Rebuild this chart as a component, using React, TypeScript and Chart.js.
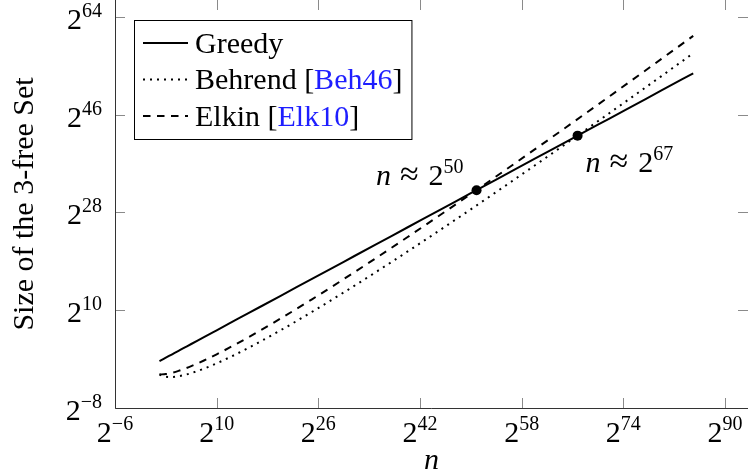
import React, { useEffect, useRef } from "react";
import { Chart, registerables } from "chart.js";

Chart.register(...registerables);

// log2(n) sample positions
const LOG_N = [1, 2, 3, 4, 5, 6, 8, 10, 12, 15, 20, 25, 30, 35, 40, 45, 50, 55, 60, 65, 70, 75, 80, 85];
// log2(size) of each lower bound
const GREEDY = [0.631, 1.262, 1.893, 2.524, 3.155, 3.786, 5.047, 6.309, 7.571, 9.464, 12.619, 15.773, 18.928, 22.083, 25.237, 28.392, 31.546, 34.701, 37.856, 41.01, 44.165, 47.32, 50.474, 53.629];
const BEHREND = [-1.828, -2.25, -2.295, -2.157, -1.905, -1.574, -0.75, 0.225, 1.306, 3.068, 6.27, 9.697, 13.281, 16.985, 20.78, 24.653, 28.589, 32.579, 36.614, 40.69, 44.804, 48.948, 53.121, 57.321];
const ELKIN = [-1.828, -1.75, -1.503, -1.157, -0.744, -0.282, 0.75, 1.887, 3.098, 5.022, 8.432, 12.019, 15.735, 19.549, 23.442, 27.399, 31.411, 35.469, 39.568, 43.702, 47.868, 52.062, 56.283, 60.525];
// crossing points
const CROSS_N = [50.9, 66.8];
const CROSS_SIZE = [32.1, 42.15];
const CROSS_LABELS = ["50", "67"];
// ticks (exponents of 2)
const X_TICKS = [-6, 10, 26, 42, 58, 74, 90];
const Y_TICKS = [-8, 10, 28, 46, 64];
// legend
const SERIES_NAMES = ["Greedy", "Behrend", "Elkin"];
const SERIES_CITES = ["", "Beh46", "Elk10"];
const X_TITLE = "n";
const Y_TITLE = "Size of the 3-free Set";

const FONT = '"Liberation Serif", "Times New Roman", serif';
const BASE = 30;
const SUP = 20;
const RISE = 12;
const LINK = "rgb(30,30,255)";
const DASHES: number[][] = [[], [2, 5], [7.5, 6.5]];

type Part = { t: string; font: string; color?: string; dy?: number; gap?: number };

function drawParts(ctx: CanvasRenderingContext2D, parts: Part[], x: number, y: number, align: "left" | "right" | "center") {
  let total = 0;
  const widths = parts.map((p) => {
    ctx.font = p.font;
    const w = ctx.measureText(p.t).width + (p.gap || 0);
    total += w;
    return w;
  });
  let sx = align === "left" ? x : align === "right" ? x - total : x - total / 2;
  ctx.textAlign = "left";
  ctx.textBaseline = "alphabetic";
  parts.forEach((p, i) => {
    ctx.font = p.font;
    ctx.fillStyle = p.color || "#000";
    ctx.fillText(p.t, sx + (p.gap || 0), y - (p.dy || 0));
    sx += widths[i];
  });
  return total;
}

function powParts(exp: number): Part[] {
  const e = exp < 0 ? "\u2212" + Math.abs(exp) : String(exp);
  return [
    { t: "2", font: `${BASE}px ${FONT}` },
    { t: e, font: `${SUP}px ${FONT}`, dy: RISE },
  ];
}

const overlay = {
  id: "overlay",
  afterDraw(chart: any) {
    const ctx: CanvasRenderingContext2D = chart.ctx;
    const { left, right, top, bottom } = chart.chartArea;
    const xs = chart.scales.x;
    const ys = chart.scales.y;
    ctx.save();

    // ticks (inward, all four sides)
    ctx.strokeStyle = "#8a8a8a";
    ctx.lineWidth = 1;
    ctx.beginPath();
    X_TICKS.forEach((v) => {
      const px = Math.round(xs.getPixelForValue(v)) + 0.5;
      ctx.moveTo(px, bottom);
      ctx.lineTo(px, bottom - 10);
      ctx.moveTo(px, top);
      ctx.lineTo(px, top + 10);
    });
    Y_TICKS.forEach((v) => {
      const py = Math.round(ys.getPixelForValue(v)) + 0.5;
      ctx.moveTo(left, py);
      ctx.lineTo(left + 10, py);
      ctx.moveTo(right, py);
      ctx.lineTo(right - 10, py);
    });
    ctx.stroke();

    // axis lines
    ctx.strokeStyle = "#333";
    ctx.beginPath();
    ctx.moveTo(left + 0.5, top);
    ctx.lineTo(left + 0.5, bottom + 0.5);
    ctx.lineTo(right, bottom + 0.5);
    ctx.stroke();

    // tick labels
    X_TICKS.forEach((v) => {
      drawParts(ctx, powParts(v), xs.getPixelForValue(v), bottom + 34, "center");
    });
    Y_TICKS.forEach((v) => {
      drawParts(ctx, powParts(v), left - 13, ys.getPixelForValue(v) + 12, "right");
    });

    // axis titles
    ctx.fillStyle = "#000";
    ctx.font = `italic ${BASE}px ${FONT}`;
    ctx.textAlign = "center";
    ctx.textBaseline = "alphabetic";
    ctx.fillText(X_TITLE, (left + right) / 2, bottom + 61);
    ctx.save();
    ctx.translate(33, (top + bottom) / 2);
    ctx.rotate(-Math.PI / 2);
    ctx.font = `${BASE}px ${FONT}`;
    ctx.textAlign = "center";
    ctx.fillText(Y_TITLE, 0, 0);
    ctx.restore();

    // crossing annotations
    CROSS_N.forEach((n, i) => {
      const px = xs.getPixelForValue(n);
      const py = ys.getPixelForValue(CROSS_SIZE[i]);
      const parts: Part[] = [
        { t: "n", font: `italic ${BASE}px ${FONT}` },
        { t: "\u2248", font: `${BASE + 4}px ${FONT}`, gap: 9 },
        { t: "2", font: `${BASE}px ${FONT}`, gap: 10 },
        { t: CROSS_LABELS[i], font: `${SUP}px ${FONT}`, dy: RISE },
      ];
      if (i === 0) drawParts(ctx, parts, px - 13, py - 5, "right");
      else drawParts(ctx, parts, px + 8, py + 36, "left");
    });

    // legend
    const lx = 134, ly = 20, rowH = 36.5, firstRow = 43;
    const textX = 195;
    let maxW = 0;
    const rows: Part[][] = SERIES_NAMES.map((name, i) => {
      const f = `${BASE}px ${FONT}`;
      if (!SERIES_CITES[i]) return [{ t: name, font: f }];
      return [
        { t: name + " [", font: f },
        { t: SERIES_CITES[i], font: f, color: LINK },
        { t: "]", font: f },
      ];
    });
    rows.forEach((r) => {
      let w = 0;
      r.forEach((p) => {
        ctx.font = p.font;
        w += ctx.measureText(p.t).width;
      });
      maxW = Math.max(maxW, w);
    });
    const boxW = textX + maxW + 9 - lx;
    const boxH = 139 - ly;
    ctx.fillStyle = "#fff";
    ctx.fillRect(lx, ly, boxW, boxH);
    ctx.strokeStyle = "#000";
    ctx.lineWidth = 1;
    ctx.strokeRect(lx + 0.5, ly + 0.5, boxW, boxH);
    rows.forEach((r, i) => {
      const y = firstRow + i * rowH;
      const ds = chart.data.datasets[i];
      ctx.save();
      ctx.strokeStyle = ds.borderColor;
      ctx.lineWidth = ds.borderWidth;
      ctx.setLineDash(ds.borderDash || []);
      ctx.beginPath();
      ctx.moveTo(143, y);
      ctx.lineTo(188, y);
      ctx.stroke();
      ctx.restore();
      drawParts(ctx, r, textX, y + 9.5, "left");
    });

    ctx.restore();
  },
};

export default function App() {
  const ref = useRef<HTMLCanvasElement | null>(null);
  useEffect(() => {
    document.body.style.margin = "0";
    const canvas = ref.current!;
    const series = [GREEDY, BEHREND, ELKIN];
    const datasets: any[] = series.map((vals, i) => ({
      label: SERIES_NAMES[i],
      data: LOG_N.map((n, j) => ({ x: n, y: vals[j] })),
      borderColor: "#000",
      backgroundColor: "#000",
      borderWidth: 2,
      borderDash: DASHES[i],
      pointRadius: 0,
      cubicInterpolationMode: "monotone",
      fill: false,
    }));
    datasets.push({
      label: "crossings",
      data: CROSS_N.map((n, j) => ({ x: n, y: CROSS_SIZE[j] })),
      showLine: false,
      pointRadius: 5,
      pointBackgroundColor: "#000",
      pointBorderWidth: 0,
      borderColor: "#000",
    });
    const chart = new Chart(canvas, {
      type: "line",
      data: { datasets },
      options: {
        animation: false,
        responsive: false,
        maintainAspectRatio: false,
        layout: { padding: 0, autoPadding: false },
        plugins: { legend: { display: false }, tooltip: { enabled: false } },
        scales: {
          x: {
            type: "linear",
            min: -6,
            max: 93.62,
            grid: { display: false },
            border: { display: false },
            ticks: { display: false },
            afterFit: (s: any) => {
              s.height = 67;
            },
          },
          y: {
            type: "linear",
            min: -8,
            max: 67.13,
            grid: { display: false },
            border: { display: false },
            ticks: { display: false },
            afterFit: (s: any) => {
              s.width = 115;
            },
          },
        },
      },
      plugins: [overlay],
    });
    return () => chart.destroy();
  }, []);
  return (
    <div style={{ position: "fixed", left: 0, top: 0, width: 748, height: 475, background: "#fff" }}>
      <canvas ref={ref} width={748} height={475} style={{ width: 748, height: 475, display: "block" }} />
    </div>
  );
}
